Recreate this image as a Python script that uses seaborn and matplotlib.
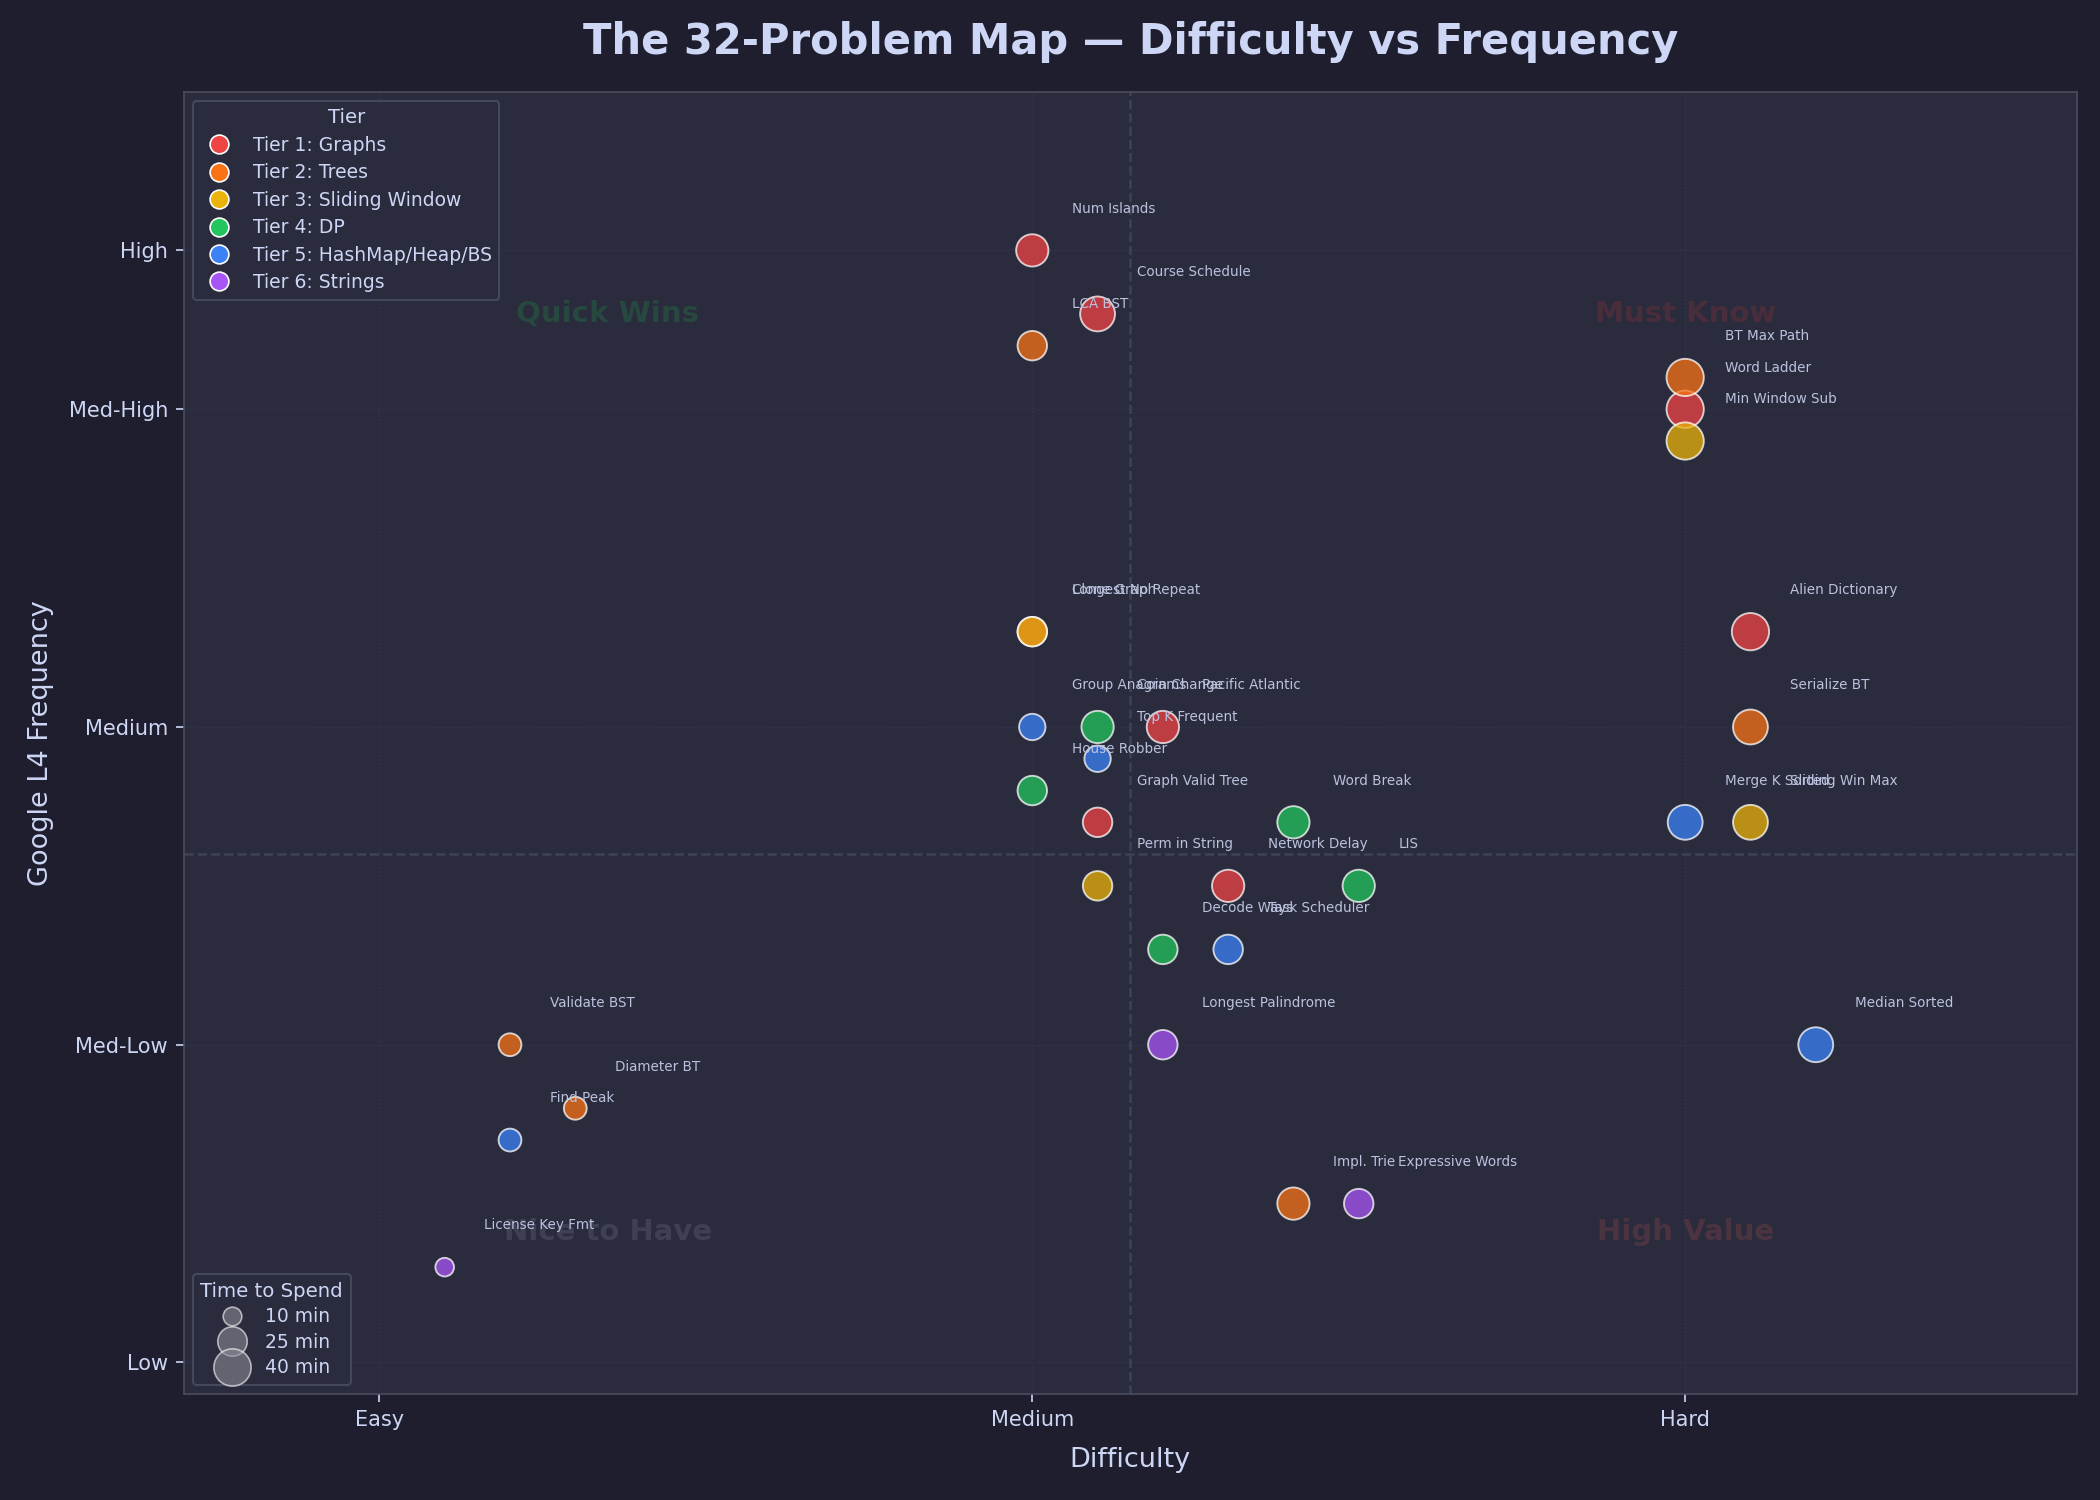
import pandas as pd
import seaborn as sns
import matplotlib.pyplot as plt
from matplotlib.lines import Line2D

# Problem data (difficulty: 1=Easy, 2=Medium, 3=Hard; frequency: 1=Low .. 4.5=High)
problems = ['Num Islands', 'Course Schedule', 'Word Ladder', 'Clone Graph', 'Alien Dictionary',
            'Pacific Atlantic', 'Graph Valid Tree', 'Network Delay',
            'LCA BST', 'BT Max Path', 'Serialize BT', 'Validate BST', 'Diameter BT', 'Impl. Trie',
            'Longest No Repeat', 'Min Window Sub', 'Sliding Win Max', 'Perm in String',
            'Coin Change', 'House Robber', 'Word Break', 'LIS', 'Decode Ways',
            'Group Anagrams', 'Top K Frequent', 'Merge K Sorted', 'Task Scheduler', 'Median Sorted', 'Find Peak',
            'Longest Palindrome', 'Expressive Words', 'License Key Fmt']
tier = [1, 1, 1, 1, 1, 1, 1, 1,
        2, 2, 2, 2, 2, 2,
        3, 3, 3, 3,
        4, 4, 4, 4, 4,
        5, 5, 5, 5, 5, 5,
        6, 6, 6]
difficulty = [2.0, 2.1, 3.0, 2.0, 3.1, 2.2, 2.1, 2.3,
              2.0, 3.0, 3.1, 1.2, 1.3, 2.4,
              2.0, 3.0, 3.1, 2.1,
              2.1, 2.0, 2.4, 2.5, 2.2,
              2.0, 2.1, 3.0, 2.3, 3.2, 1.2,
              2.2, 2.5, 1.1]
frequency = [4.5, 4.3, 4.0, 3.3, 3.3, 3.0, 2.7, 2.5,
             4.2, 4.1, 3.0, 2.0, 1.8, 1.5,
             3.3, 3.9, 2.7, 2.5,
             3.0, 2.8, 2.7, 2.5, 2.3,
             3.0, 2.9, 2.7, 2.3, 2.0, 1.7,
             2.0, 1.5, 1.3]
minutes = [30, 35, 40, 25, 40, 30, 25, 30,
           25, 40, 35, 15, 15, 30,
           25, 40, 35, 25,
           30, 25, 30, 30, 25,
           20, 20, 35, 25, 35, 15,
           25, 25, 10]

tier_names = ['Tier 1: Graphs', 'Tier 2: Trees', 'Tier 3: Sliding Window',
              'Tier 4: DP', 'Tier 5: HashMap/Heap/BS', 'Tier 6: Strings']
tier_colors = ['#ef4444', '#f97316', '#eab308', '#22c55e', '#3b82f6', '#a855f7']

diff_ticks = [1, 2, 3]
diff_labels = ['Easy', 'Medium', 'Hard']
freq_ticks = [1, 2, 3, 4, 4.5]
freq_labels = ['Low', 'Med-Low', 'Medium', 'Med-High', 'High']
legend_minutes = [10, 25, 40]

df = pd.DataFrame({'Problem': problems,
                   'Tier': [tier_names[t - 1] for t in tier],
                   'Difficulty': difficulty,
                   'Frequency': frequency,
                   'Minutes': minutes})

# Dark theme colours
BG = '#1e1e2e'
PANEL = '#2a2b3d'
TEXT = '#cdd6f4'
SUBTEXT = '#bac2de'
EDGE = '#45475a'

sns.set_style('dark', rc={'axes.facecolor': PANEL, 'figure.facecolor': BG,
                          'axes.edgecolor': EDGE, 'text.color': TEXT,
                          'axes.labelcolor': TEXT, 'xtick.color': TEXT, 'ytick.color': TEXT})
plt.rcParams['font.family'] = ['DejaVu Sans']
plt.rcParams['xtick.bottom'] = True
plt.rcParams['ytick.left'] = True

fig, ax = plt.subplots(figsize=(14, 10), dpi=150)
fig.subplots_adjust(left=0.0874, right=0.989, top=0.939, bottom=0.0705)

palette = dict(zip(tier_names, tier_colors))
size_of = lambda m: 8 * m

sns.scatterplot(data=df, x='Difficulty', y='Frequency', hue='Tier', palette=palette,
                size='Minutes', sizes=(size_of(10), size_of(40)), size_norm=(10, 40),
                alpha=0.75, edgecolor='white', linewidth=0.9, legend=False, ax=ax, zorder=3)

for _, r in df.iterrows():
    ax.annotate(r['Problem'], (r['Difficulty'], r['Frequency']), xytext=(19, 20),
                textcoords='offset points', fontsize=6.5, color=SUBTEXT, va='center', ha='left',
                zorder=4)

ax.set_xlim(0.7, 3.6)
ax.set_ylim(0.9, 5.0)
ax.axvline(2.15, color='#3f4155', linestyle='--', linewidth=1.2, zorder=1)
ax.axhline(2.6, color='#3f4155', linestyle='--', linewidth=1.2, zorder=1)
ax.grid(True, linestyle=':', color='#35364a', linewidth=0.7, zorder=0)

quads = [(1.35, 4.3, 'Quick Wins', '#27483e'), (3.0, 4.3, 'Must Know', '#4a2d3b'),
         (1.35, 1.41, 'Nice to Have', '#3f4053'), (3.0, 1.41, 'High Value', '#4b3340')]
for qx, qy, qt, qc in quads:
    ax.text(qx, qy, qt, fontsize=14, fontweight='bold', color=qc, ha='center', va='center', zorder=2)

ax.set_xticks(diff_ticks)
ax.set_xticklabels(diff_labels, fontsize=10)
ax.set_yticks(freq_ticks)
ax.set_yticklabels(freq_labels, fontsize=10)
ax.tick_params(length=4, width=0.8)
ax.set_xlabel('Difficulty', fontsize=13, labelpad=8)
ax.set_ylabel('Google L4 Frequency', fontsize=13, labelpad=7)
for sp in ax.spines.values():
    sp.set_color('#4a4c60')

ax.set_title('The 32-Problem Map — Difficulty vs Frequency', fontsize=20,
             fontweight='bold', color='#cdd6f4', pad=18)

tier_handles = [Line2D([], [], marker='o', linestyle='', markersize=9, markerfacecolor=c,
                       markeredgecolor='white', markeredgewidth=0.8, label=n)
                for n, c in zip(tier_names, tier_colors)]
leg1 = ax.legend(handles=tier_handles, title='Tier', loc='upper left', fontsize=9,
                 title_fontsize=9.5, facecolor=PANEL, edgecolor=EDGE, labelcolor=TEXT,
                 labelspacing=0.45, framealpha=1)
leg1.get_title().set_color(TEXT)
ax.add_artist(leg1)

size_handles = [Line2D([], [], marker='o', linestyle='', markersize=size_of(m) ** 0.5,
                       markerfacecolor='#8a8a96', alpha=0.6, markeredgecolor='white',
                       markeredgewidth=0.8, label=f'{m} min') for m in legend_minutes]
leg2 = ax.legend(handles=size_handles, title='Time to Spend', loc='lower left', fontsize=9,
                 title_fontsize=9.5, facecolor=PANEL, edgecolor=EDGE, labelcolor=TEXT,
                 labelspacing=0.35, framealpha=1)
leg2.get_title().set_color(TEXT)

fig.savefig('out.png', dpi=150, facecolor=BG)
